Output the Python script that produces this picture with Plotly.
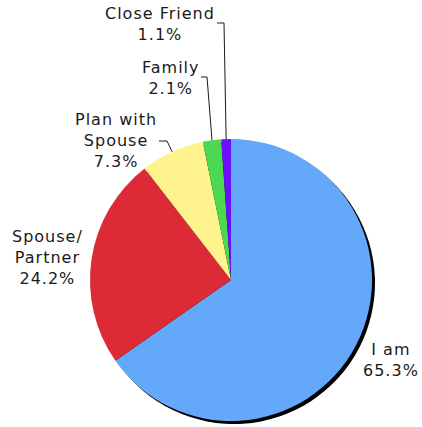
import math
import plotly.graph_objects as go

labels = ["I am", "Spouse/Partner", "Plan with Spouse", "Family", "Close Friend"]
label_text = ["I am", "Spouse/<br>Partner", "Plan with<br>Spouse", "Family", "Close Friend"]
values = [65.3, 24.2, 7.3, 2.1, 1.1]
colors = ["#64A8FA", "#DC2B36", "#FFF38E", "#4DD851", "#6A10FF"]

W, H = 422, 427
CX, CY, R = 231, 280, 141
SH = 3  # shadow offset px

def px(x):
    return x / W

def py(y):
    return 1 - y / H

def dom(cx, cy):
    return dict(x=[px(cx - R), px(cx + R)], y=[py(cy + R), py(cy - R)])

fig = go.Figure()
fig.add_trace(go.Pie(values=values, labels=labels, sort=False, direction="clockwise",
                     rotation=0, textinfo="none", hoverinfo="skip", showlegend=False,
                     marker=dict(colors=["#000000"] * len(values), line=dict(width=0)),
                     domain=dom(CX + SH, CY + SH)))
fig.add_trace(go.Pie(values=values, labels=labels, sort=False, direction="clockwise",
                     rotation=0, textinfo="none", showlegend=False,
                     marker=dict(colors=colors, line=dict(width=0)),
                     domain=dom(CX, CY)))

# label block centres (layout positions) and leader-line elbows
label_pos = [(391, 360), (47, 257), (116, 141), (170, 78), (160, 24)]
elbows = [None, None, [(159, 141), (167, 141)], [(201, 77), (207, 77)], [(217, 23), (224, 23)]]

total = sum(values)
cum = 0.0
annotations = []
shapes = []
for i, v in enumerate(values):
    mid = (cum + v / 2) / total
    cum += v
    ang = 2 * math.pi * mid
    ex = CX + R * math.sin(ang)
    ey = CY - R * math.cos(ang)
    txt = f"{label_text[i]}<br>{v:.1f}%"
    lx, ly = label_pos[i]
    annotations.append(dict(x=px(lx), y=py(ly), xref="paper", yref="paper",
                            text=f"<span style='letter-spacing:1px'>{txt}</span>",
                            showarrow=False, align="center", xanchor="center", yanchor="middle",
                            font=dict(family="DejaVu Sans", size=16, color="#1a1a1a")))
    if elbows[i]:
        (x0, y0), (x1, y1) = elbows[i]
        path = f"M {px(x0)} {py(y0)} L {px(x1)} {py(y1)} L {px(ex)} {py(ey)}"
        shapes.append(dict(type="path", xref="paper", yref="paper", path=path,
                           line=dict(color="#1a1a1a", width=1)))

fig.update_layout(width=W, height=H, margin=dict(l=0, r=0, t=0, b=0),
                  paper_bgcolor="white", plot_bgcolor="white",
                  annotations=annotations, shapes=shapes, showlegend=False)
fig.write_html("out.html", config={"displayModeBar": False},
               post_script="document.body.style.margin='0';document.body.style.overflow='hidden';")
